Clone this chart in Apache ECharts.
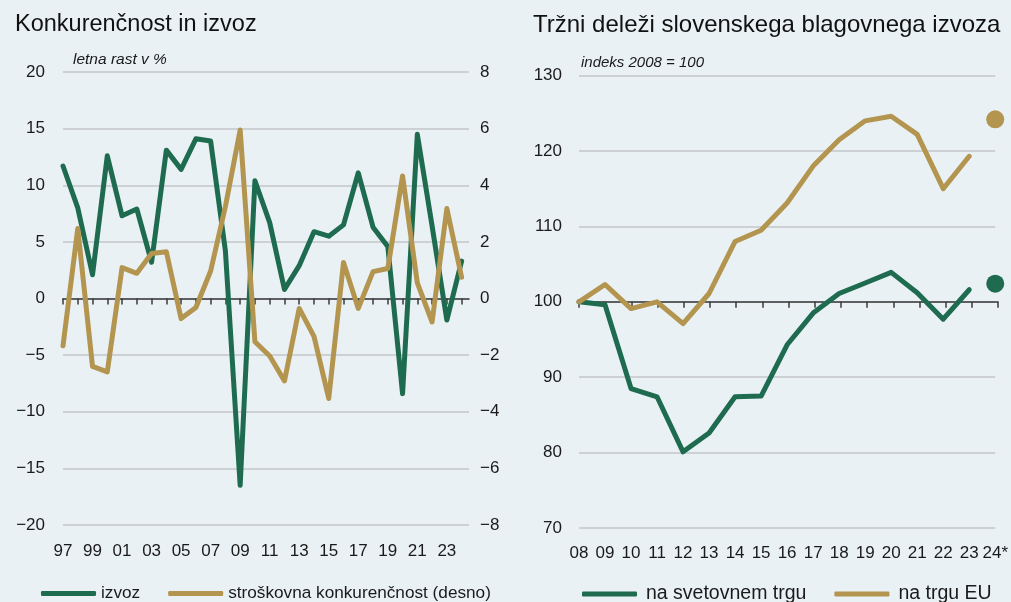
<!DOCTYPE html>
<html>
<head>
<meta charset="utf-8">
<script src="https://cdn.jsdelivr.net/npm/echarts@6/dist/echarts.min.js"></script>
<style>
html, body { margin: 0; padding: 0; background: #e9f1f5; }
#chart { width: 1011px; height: 602px; }
</style>
</head>
<body>
<div id="chart"></div>
<script>
// levi graf: konkurenčnost in izvoz (letna rast v %)
const yearsLeft = [1997, 1998, 1999, 2000, 2001, 2002, 2003, 2004, 2005, 2006, 2007, 2008, 2009, 2010,
    2011, 2012, 2013, 2014, 2015, 2016, 2017, 2018, 2019, 2020, 2021, 2022, 2023, 2024];
const izvoz = [11.7, 8.0, 2.1, 12.6, 7.3, 7.9, 3.2, 13.1, 11.4, 14.1, 13.9, 4.2, -16.5, 10.4,
    6.7, 0.8, 2.9, 5.9, 5.5, 6.5, 11.1, 6.3, 4.6, -8.4, 14.5, 6.4, -1.9, 3.3];
const stroskovna = [-1.67, 2.47, -2.4, -2.59, 1.09, 0.89, 1.59, 1.65, -0.71, -0.32, 0.97, 3.25, 5.95, -1.53,
    -2.03, -2.91, -0.35, -1.34, -3.53, 1.27, -0.35, 0.95, 1.06, 4.33, 0.55, -0.83, 3.18, 0.75];
const leftLabelYears = [1997, 1999, 2001, 2003, 2005, 2007, 2009, 2011, 2013, 2015, 2017, 2019, 2021, 2023];

// desni graf: tržni deleži (indeks 2008 = 100)
const yearsRight = [2008, 2009, 2010, 2011, 2012, 2013, 2014, 2015, 2016, 2017, 2018, 2019, 2020, 2021, 2022, 2023];
const svetovniTrg = [100, 99.6, 88.5, 87.4, 80.1, 82.6, 87.4, 87.5, 94.3, 98.5, 101.1, 102.5, 103.9, 101.2, 97.7, 101.6];
const trgEU = [100, 102.3, 99.1, 100.0, 97.1, 101.1, 108.0, 109.5, 113.1, 118.0, 121.5, 124.0, 124.6, 122.2, 115.0, 119.3];
const estYear = 2024;
const estSvetovni = 102.4;
const estEU = 124.2;

const green = '#1e6b4f';
const gold = '#b3954f';
const font = '"Liberation Sans", Arial, sans-serif';
const minus = v => String(v).replace('-', '\u2212');
const pairs = (xs, ys) => xs.map((x, i) => [x, ys[i]]);

const chart = echarts.init(document.getElementById('chart'));

const labelStyle = { fontFamily: font, fontSize: 17, color: '#1a1a1a' };
const gridLine = { show: true, lineStyle: { color: '#c4c6c8', width: 1.5 } };
const darkLine = { color: '#3a3a3a', width: 1.5 };

let option = {
    backgroundColor: '#e9f1f5',
    animation: false,
    title: [
        { text: 'Konkurenčnost in izvoz', left: 10, top: 8,
          textStyle: { fontFamily: font, fontSize: 23.5, fontWeight: 'normal', color: '#111' } },
        { text: 'Tržni deleži slovenskega blagovnega izvoza', left: 528, top: 8,
          textStyle: { fontFamily: font, fontSize: 24, fontWeight: 'normal', color: '#111' } }
    ],
    graphic: [
        { type: 'text', left: 73, top: 52,
          style: { text: 'letna rast v %', font: 'italic 15.5px ' + font, fill: '#1a1a1a' } },
        { type: 'text', left: 581, top: 55,
          style: { text: 'indeks 2008 = 100', font: 'italic 15px ' + font, fill: '#1a1a1a' } }
    ],
    legend: [
        { left: 36, top: 580, itemWidth: 55, itemHeight: 5, itemGap: 28, icon: 'roundRect',
          data: ['izvoz', 'stroškovna konkurenčnost (desno)'],
          textStyle: { ...labelStyle, fontSize: 17.2 } },
        { left: 577, top: 579, itemWidth: 55, itemHeight: 5, itemGap: 28, icon: 'roundRect',
          data: ['na svetovnem trgu', 'na trgu EU'],
          textStyle: { ...labelStyle, fontSize: 19.5, padding: [0, 0, 0, 4] } }
    ],
    grid: [
        { left: 63, top: 72, width: 406, height: 453 },
        { left: 579, top: 75.6, width: 419, height: 452.4 },
        { left: 579, top: 75.6, width: 419, height: 226.2 }
    ],
    xAxis: [
        { // oznake let spodaj
            gridIndex: 0, type: 'value', min: 1997, max: 2024.5, position: 'bottom',
            axisLine: { show: false, onZero: false }, axisTick: { show: false }, splitLine: { show: false },
            axisLabel: { customValues: leftLabelYears, margin: 18, ...labelStyle,
                         formatter: v => String(v % 100).padStart(2, '0') }
        },
        { // črta na ničli
            gridIndex: 0, type: 'value', min: 1997, max: 2024.5, position: 'bottom',
            axisLine: { show: true, onZero: true, onZeroAxisIndex: 0, lineStyle: darkLine },
            axisTick: { show: true, customValues: yearsLeft, length: 6, lineStyle: darkLine },
            axisLabel: { show: false }, splitLine: { show: false }
        },
        {
            gridIndex: 1, type: 'value', min: 2008, max: 2024, interval: 1, position: 'bottom',
            axisLine: { show: false, onZero: false }, axisTick: { show: false }, splitLine: { show: false },
            axisLabel: { margin: 17, ...labelStyle,
                         formatter: v => String(v % 100).padStart(2, '0') + (v === estYear ? '*' : '') }
        },
        { // črta na 100
            gridIndex: 2, type: 'value', min: 2008, max: 2024, interval: 1, position: 'bottom',
            axisLine: { show: true, onZero: false, lineStyle: darkLine },
            axisTick: { show: true, length: 6, lineStyle: darkLine },
            axisLabel: { show: false }, splitLine: { show: false }
        }
    ],
    yAxis: [
        { gridIndex: 0, type: 'value', min: -20, max: 20, interval: 5,
          axisLine: { show: false }, axisTick: { show: false }, splitLine: gridLine,
          axisLabel: { margin: 18, ...labelStyle, formatter: minus } },
        { gridIndex: 0, type: 'value', position: 'right', min: -8, max: 8, interval: 2,
          axisLine: { show: false }, axisTick: { show: false }, splitLine: { show: false },
          axisLabel: { margin: 11, ...labelStyle, formatter: minus } },
        { gridIndex: 1, type: 'value', min: 70, max: 130, interval: 10,
          axisLine: { show: false }, axisTick: { show: false }, splitLine: gridLine,
          axisLabel: { margin: 17, ...labelStyle } },
        { gridIndex: 2, type: 'value', min: 100, max: 130, show: false }
    ],
    series: [
        { name: 'izvoz', type: 'line', xAxisIndex: 0, yAxisIndex: 0, data: pairs(yearsLeft, izvoz),
          showSymbol: false, color: green, lineStyle: { width: 5, color: green, join: 'round', cap: 'round' }, z: 3 },
        { name: 'stroškovna konkurenčnost (desno)', type: 'line', xAxisIndex: 0, yAxisIndex: 1,
          data: pairs(yearsLeft, stroskovna),
          showSymbol: false, color: gold, lineStyle: { width: 5, color: gold, join: 'round', cap: 'round' }, z: 4 },
        { name: 'na svetovnem trgu', type: 'line', xAxisIndex: 2, yAxisIndex: 2, data: pairs(yearsRight, svetovniTrg),
          showSymbol: false, color: green, lineStyle: { width: 5, color: green, join: 'round', cap: 'round' }, z: 3 },
        { name: 'na trgu EU', type: 'line', xAxisIndex: 2, yAxisIndex: 2, data: pairs(yearsRight, trgEU),
          showSymbol: false, color: gold, lineStyle: { width: 5, color: gold, join: 'round', cap: 'round' }, z: 4 },
        { name: 'ocena', type: 'scatter', xAxisIndex: 2, yAxisIndex: 2, symbolSize: 18, clip: false,
          data: [
              { value: [estYear, estEU], itemStyle: { color: gold, opacity: 1 } },
              { value: [estYear, estSvetovni], itemStyle: { color: green, opacity: 1 } }
          ] }
    ]
};
chart.setOption(option);
</script>
</body>
</html>
